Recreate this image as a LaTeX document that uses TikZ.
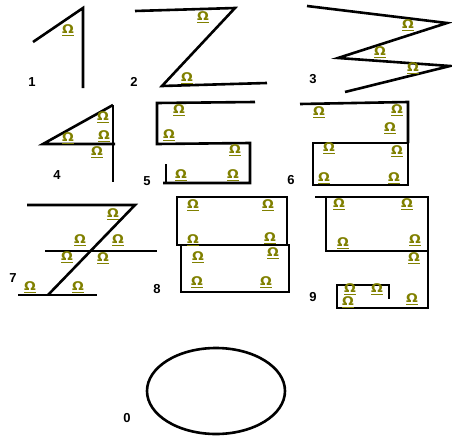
\documentclass[tikz,border=0pt]{standalone}
\usepackage{fontspec}
\setmainfont{Liberation Sans}
\newfontfamily\omegafont{DejaVu Sans}
\usepackage{xcolor}
\definecolor{omegaolive}{RGB}{128,128,0}

\begin{document}
\begin{tikzpicture}[x=1pt,y=-1pt]
\tikzset{
				digitline/.style={
					draw=black,
					line width=2.6pt,
					line join=miter
				},
				omark/.style={
					text=omegaolive,
					font=\omegafont\bfseries\fontsize{12}{12}\selectfont,
					xscale=1.15,
					inner sep=0pt
				},
				numlabel/.style={
					font=\bfseries\fontsize{13}{13}\selectfont,
					inner sep=0pt
				}
			}
			\useasboundingbox (0,0) rectangle (452,436);
			% one
			\draw[digitline] (33,42) -- (83,8) -- (83,88);
			\node[numlabel] (l1) at (32,82) {1};
			% two
			\draw[digitline] (135,11) -- (235,8) -- (162,86) -- (267,83);
			\node[numlabel] (l2) at (134,82) {2};
			% three
			\draw[digitline] (307,6) -- (447,23) -- (338,58) -- (450,66) -- (345,92);
			\node[numlabel] (l3) at (313,79) {3};
			% four
			\draw[digitline] (113,105) -- (43,144) -- (115,144);
			\draw[digitline] (113,105) -- (113,182);
			\node[numlabel] (l4) at (57,175) {4};
			% five
			\draw[digitline] (255,102) -- (157,103) -- (157,144) -- (250,143) -- (250,183) -- (163,183);
			\draw[digitline] (166,164) -- (166,184);
			\node[numlabel] (l5) at (147,181) {5};
			% six
			\draw[digitline] (300,104) -- (408,102) -- (408,143);
			\draw[digitline] (313,143) rectangle (408,185);
			\node[numlabel] (l6) at (291,180) {6};
			% seven
			\draw[digitline] (27,205) -- (135,205) -- (48,295);
			\draw[digitline] (45,251) -- (157,251);
			\draw[digitline] (18,295) -- (97,295);
			\node[numlabel] (l7) at (13,278) {7};
			% eight
			\draw[digitline] (177,197) rectangle (287,245);
			\draw[digitline] (181,245) rectangle (289,292);
			\node[numlabel] (l8) at (157,289) {8};
			% nine
			\draw[digitline] (315,197) -- (428,197) -- (428,308) -- (337,308) -- (337,285) -- (389,285) -- (389,299);
			\draw[digitline] (326,197) -- (326,251) -- (428,251);
			\node[numlabel] (l9) at (313,297) {9};
			% zero
			\draw[digitline] (216,391) ellipse [x radius=69,y radius=43];
			\node[numlabel] (l0) at (127,418) {0};
			% omega marks
			\foreach \px/\py [count=\i] in {68/30, 203/17, 187/78, 408/25, 380/52, 413/68,
				103/117, 68/138, 104/136, 97/152,
				179/110, 169/135, 235/150, 181/175, 233/175,
				319/112, 397/110, 390/128, 329/148, 397/151, 324/178, 394/178,
				113/214, 80/240, 118/240, 67/257, 103/258, 30/287, 78/287,
				193/205, 268/205, 193/240, 270/238, 198/257, 273/253, 197/282, 266/282,
				339/204, 407/204, 343/243, 415/240, 414/258, 350/289, 377/289, 348/302, 412/299}
				\node[omark] (om\i) at (\px,\py) {\underline{Ω}};
\end{tikzpicture}
\end{document}
